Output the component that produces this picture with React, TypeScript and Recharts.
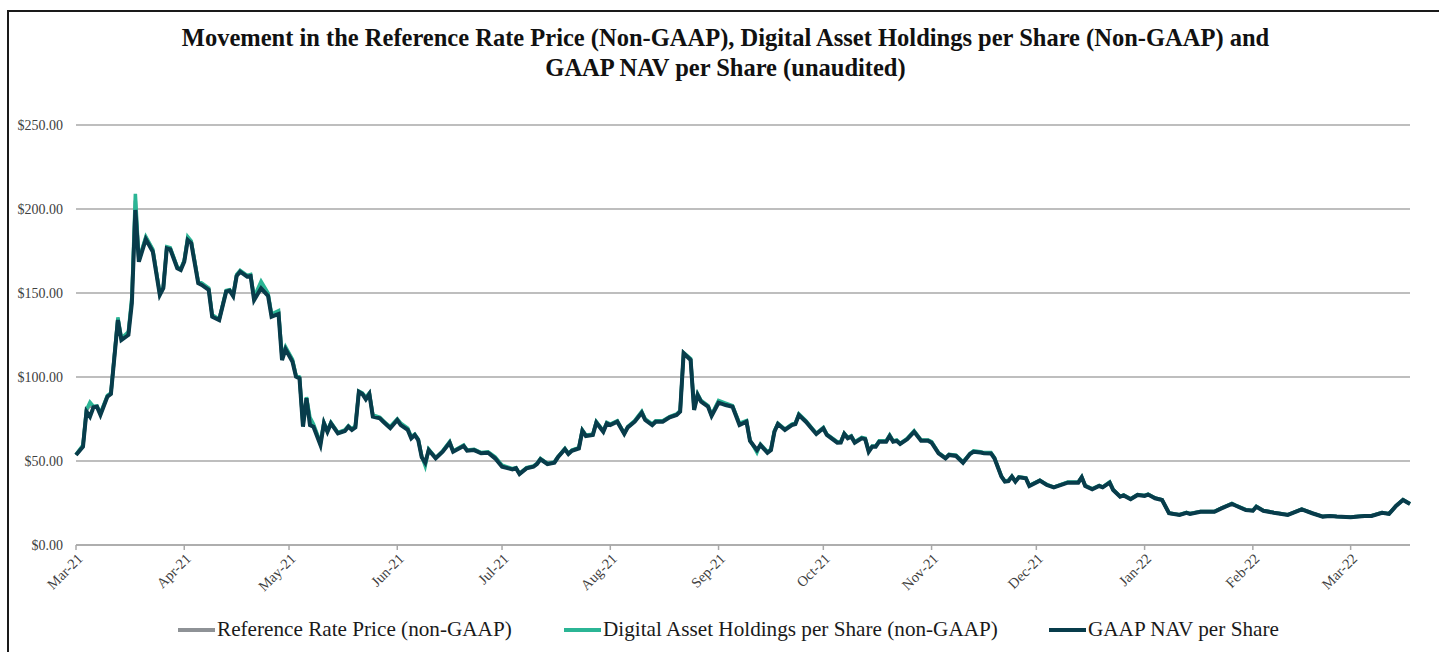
import { LineChart, Line, XAxis, YAxis, CartesianGrid } from "recharts";

const dates = [
  "2021-03-01", "2021-03-03", "2021-03-04", "2021-03-05", "2021-03-06", "2021-03-07", "2021-03-08", "2021-03-10", "2021-03-11", "2021-03-13",
  "2021-03-14", "2021-03-16", "2021-03-17", "2021-03-18", "2021-03-19", "2021-03-21", "2021-03-23", "2021-03-25", "2021-03-26", "2021-03-27",
  "2021-03-28", "2021-03-30", "2021-03-31", "2021-04-01", "2021-04-02", "2021-04-03", "2021-04-05", "2021-04-06", "2021-04-08", "2021-04-09",
  "2021-04-11", "2021-04-13", "2021-04-14", "2021-04-15", "2021-04-16", "2021-04-17", "2021-04-19", "2021-04-20", "2021-04-21", "2021-04-23",
  "2021-04-25", "2021-04-26", "2021-04-28", "2021-04-29", "2021-04-30", "2021-05-02", "2021-05-03", "2021-05-04", "2021-05-05", "2021-05-06",
  "2021-05-07", "2021-05-08", "2021-05-10", "2021-05-11", "2021-05-12", "2021-05-13", "2021-05-15", "2021-05-17", "2021-05-18", "2021-05-19",
  "2021-05-20", "2021-05-21", "2021-05-22", "2021-05-23", "2021-05-24", "2021-05-25", "2021-05-27", "2021-05-28", "2021-05-29", "2021-05-30",
  "2021-06-01", "2021-06-02", "2021-06-04", "2021-06-05", "2021-06-06", "2021-06-07", "2021-06-08", "2021-06-09", "2021-06-10", "2021-06-12",
  "2021-06-14", "2021-06-16", "2021-06-17", "2021-06-20", "2021-06-21", "2021-06-23", "2021-06-25", "2021-06-27", "2021-06-29", "2021-07-01",
  "2021-07-04", "2021-07-05", "2021-07-06", "2021-07-08", "2021-07-10", "2021-07-11", "2021-07-12", "2021-07-14", "2021-07-16", "2021-07-17",
  "2021-07-19", "2021-07-20", "2021-07-21", "2021-07-23", "2021-07-24", "2021-07-25", "2021-07-27", "2021-07-28", "2021-07-30", "2021-07-31",
  "2021-08-01", "2021-08-03", "2021-08-05", "2021-08-06", "2021-08-08", "2021-08-10", "2021-08-11", "2021-08-13", "2021-08-14", "2021-08-16",
  "2021-08-18", "2021-08-20", "2021-08-21", "2021-08-22", "2021-08-24", "2021-08-25", "2021-08-26", "2021-08-27", "2021-08-29", "2021-08-30",
  "2021-09-01", "2021-09-03", "2021-09-05", "2021-09-07", "2021-09-09", "2021-09-10", "2021-09-12", "2021-09-13", "2021-09-15", "2021-09-16",
  "2021-09-17", "2021-09-18", "2021-09-20", "2021-09-22", "2021-09-23", "2021-09-24", "2021-09-26", "2021-09-28", "2021-09-29", "2021-10-01",
  "2021-10-02", "2021-10-05", "2021-10-06", "2021-10-07", "2021-10-08", "2021-10-09", "2021-10-10", "2021-10-12", "2021-10-13", "2021-10-14",
  "2021-10-15", "2021-10-16", "2021-10-17", "2021-10-19", "2021-10-20", "2021-10-21", "2021-10-22", "2021-10-23", "2021-10-25", "2021-10-27",
  "2021-10-29", "2021-10-31", "2021-11-01", "2021-11-03", "2021-11-05", "2021-11-06", "2021-11-08", "2021-11-10", "2021-11-12", "2021-11-13",
  "2021-11-15", "2021-11-16", "2021-11-18", "2021-11-19", "2021-11-21", "2021-11-22", "2021-11-23", "2021-11-24", "2021-11-25", "2021-11-26",
  "2021-11-28", "2021-11-29", "2021-12-02", "2021-12-04", "2021-12-06", "2021-12-10", "2021-12-13", "2021-12-14", "2021-12-15", "2021-12-17",
  "2021-12-19", "2021-12-20", "2021-12-22", "2021-12-23", "2021-12-25", "2021-12-26", "2021-12-28", "2021-12-30", "2022-01-01", "2022-01-02",
  "2022-01-04", "2022-01-06", "2022-01-08", "2022-01-11", "2022-01-13", "2022-01-14", "2022-01-17", "2022-01-21", "2022-01-23", "2022-01-26",
  "2022-01-27", "2022-01-30", "2022-02-01", "2022-02-02", "2022-02-04", "2022-02-07", "2022-02-11", "2022-02-15", "2022-02-18", "2022-02-21",
  "2022-02-23", "2022-02-25", "2022-03-01", "2022-03-05", "2022-03-07", "2022-03-10", "2022-03-12", "2022-03-14", "2022-03-16", "2022-03-18",
];

const referenceRate = [
  53.7, 59, 80, 83.5, 82.3, 82.6, 78, 88.8, 90.3, 134.8,
  122.5, 126, 146, 205, 169.5, 183, 175.5, 149.5, 153.2, 177,
  176.5, 165.2, 164.2, 169.2, 182.5, 180.5, 156.5, 155.5, 152.5, 136.5,
  134.2, 151.2, 151.8, 148.6, 160.6, 163.2, 160.2, 160.6, 146.8, 155,
  149, 136.8, 138.5, 111, 117.2, 109.8, 100.6, 99.6, 71.2, 87.6,
  74, 71.2, 60.2, 72.7, 67.7, 72.7, 66.8, 68.2, 70.7, 68.8,
  70.5, 91.4, 90.2, 87.4, 90.2, 77, 75.7, 73.7, 71.7, 70,
  74.7, 72, 69, 64, 65.8, 62.8, 52.6, 48, 56.8, 51.8,
  55.8, 61.2, 55.8, 59.2, 56.3, 56.8, 54.8, 55.2, 52, 47,
  45.2, 45.8, 42.4, 45.8, 46.8, 48.4, 51.2, 48.4, 49.2, 52.4,
  57.2, 54.4, 56.3, 57.8, 68.2, 65.2, 65.8, 73.2, 67.7, 72.7,
  71.7, 73.7, 66.3, 70.2, 73.7, 79.1, 74.7, 71.7, 73.7, 73.7,
  76.2, 77.7, 79.7, 114.3, 110.5, 80.7, 89.6, 85.6, 82.6, 77.1,
  85.3, 83.9, 82.6, 72, 73.7, 62.3, 56, 59.8, 55.2, 56.8,
  67.7, 72.3, 68.8, 71.7, 72.3, 77.7, 73.7, 68.8, 66.3, 69.8,
  65.8, 61.2, 61.3, 66.3, 63.8, 64.8, 61.2, 63.8, 63.2, 55.8,
  58.8, 58.8, 61.8, 61.8, 65.2, 61.8, 62.3, 60.3, 63.2, 67.7,
  62.3, 62.3, 61.2, 54.8, 51.8, 53.8, 53.3, 49.3, 54.4, 55.8,
  55.3, 54.8, 54.8, 51.8, 40.9, 37.9, 38.3, 40.9, 37.9, 40.4,
  39.9, 35.3, 38.4, 35.9, 34.4, 37.3, 37.3, 40.4, 35.3, 33.4,
  35.3, 34.4, 37.3, 32.9, 28.9, 29.6, 27.4, 29.9, 29.4, 30.2,
  27.9, 26.9, 19, 18, 19.3, 18.6, 19.9, 19.9, 21.9, 24.6,
  23.6, 20.9, 20.5, 22.9, 20.5, 19.3, 18, 21.3, 19, 17,
  17.4, 17, 16.6, 17.4, 17.4, 19.3, 18.6, 23.3, 26.9, 24.5,
];

const digitalAssetHoldings = [
  53.8, 59.5, 80.5, 85, 82.5, 82.8, 78.5, 89, 90.5, 135.5,
  123, 127, 148, 209, 170, 183.5, 176, 150, 153.5, 177.5,
  177, 165.5, 164.5, 169.5, 183.5, 181, 157, 156, 153, 137,
  134.5, 151.5, 152, 149, 161, 163.5, 160.5, 161, 147.5, 157,
  150, 137.5, 139.5, 112, 118, 110.5, 101, 100, 72, 88,
  76, 72, 61, 73, 68, 73, 67, 68.5, 71, 69,
  71, 91.5, 90.5, 88, 90.5, 77.5, 76, 74, 72, 70.5,
  75, 72.5, 69.5, 64.5, 66, 63, 53, 47, 57, 52,
  56, 61.5, 56, 59.5, 56.5, 57, 55, 55.5, 52.5, 47.5,
  45.5, 46, 42.5, 46, 47, 48.5, 51.5, 48.5, 49.5, 52.5,
  57.5, 54.5, 56.5, 58, 68.5, 65.5, 66, 73.5, 68, 73,
  72, 74, 66.5, 70.5, 74, 79.5, 75, 72, 74, 74,
  76.5, 78, 80, 114.5, 111, 81, 90, 86, 83, 77.5,
  86, 84.5, 83, 72.5, 74, 62.5, 55, 60, 55.5, 57,
  68, 72.5, 69, 72, 72.5, 78, 74, 69, 66.5, 70,
  66, 61.5, 61.5, 66.5, 64, 65, 61.5, 64, 63.5, 56,
  59, 59, 62, 62, 65.5, 62, 62.5, 60.5, 63.5, 68,
  62.5, 62.5, 61.5, 55, 52, 54, 53.5, 49.5, 54.5, 56,
  55.5, 55, 55, 52, 41, 38, 38.5, 41, 38, 40.5,
  40, 35.5, 38.5, 36, 34.5, 37.5, 37.5, 40.5, 35.5, 33.5,
  35.5, 34.5, 37.5, 33, 29, 29.8, 27.5, 30, 29.5, 30.3,
  28, 27, 19, 18, 19.4, 18.7, 20, 20, 22, 24.7,
  23.7, 21, 20.6, 23, 20.6, 19.4, 18, 21.4, 19, 17,
  17.4, 17, 16.6, 17.4, 17.4, 19.3, 18.6, 23.4, 27, 24.6,
];

const gaapNav = [
  53.6, 58.5, 79.4, 76.4, 82, 82.3, 77.4, 88.3, 89.9, 133.9,
  122, 125, 144, 199.4, 168.6, 182, 174.6, 148.8, 152.8, 176.6,
  176, 164.7, 163.7, 168.6, 181.5, 179.6, 155.8, 154.8, 151.8, 135.9,
  133.9, 150.8, 151.4, 148.2, 160.1, 162.7, 159.7, 160.1, 145.8, 152.8,
  148.2, 135.9, 137.5, 110.1, 116.5, 109.1, 100.2, 99.2, 70.4, 87.3,
  71.4, 70.4, 59.5, 72.4, 67.4, 72.4, 66.5, 67.9, 70.4, 68.5,
  70, 91.2, 89.9, 86.7, 89.9, 76.4, 75.4, 73.4, 71.4, 69.5,
  74.4, 71.4, 68.5, 63.5, 65.5, 62.5, 52.2, 49, 56.5, 51.6,
  55.5, 60.9, 55.5, 58.9, 56.1, 56.5, 54.6, 54.9, 51.6, 46.6,
  45, 45.7, 42.3, 45.6, 46.6, 48.2, 51, 48.2, 49, 52.2,
  57, 54.2, 56.1, 57.5, 68, 64.9, 65.5, 72.8, 67.4, 72.4,
  71.4, 73.4, 66.1, 70, 73.4, 78.7, 74.4, 71.4, 73.4, 73.4,
  76, 77.4, 79.4, 114.1, 110.1, 80.4, 89.3, 85.3, 82.3, 76.8,
  84.7, 83.3, 82.3, 71.4, 73.4, 62, 56.5, 59.5, 54.9, 56.5,
  67.4, 72, 68.5, 71.4, 72, 77.4, 73.4, 68.5, 66.1, 69.5,
  65.5, 60.9, 61, 66.1, 63.5, 64.5, 60.9, 63.5, 63, 55.5,
  58.5, 58.5, 61.5, 61.5, 64.9, 61.5, 62, 60.1, 62.9, 67.4,
  62.1, 62.1, 60.9, 54.6, 51.6, 53.6, 53, 49, 54.2, 55.5,
  55, 54.6, 54.5, 51.6, 40.7, 37.7, 38, 40.7, 37.7, 40.3,
  39.7, 35.1, 38.3, 35.7, 34.3, 37.1, 37.1, 40.3, 35.1, 33.2,
  35.1, 34.3, 37.1, 32.7, 28.8, 29.5, 27.2, 29.8, 29.2, 30,
  27.8, 26.8, 18.9, 17.9, 19.2, 18.5, 19.8, 19.8, 21.8, 24.4,
  23.5, 20.8, 20.4, 22.8, 20.4, 19.2, 17.9, 21.2, 18.9, 16.9,
  17.3, 16.9, 16.5, 17.3, 17.3, 19.2, 18.5, 23.2, 26.8, 24.4,
];

const monthTicks = [
  "2021-03-01", "2021-04-01", "2021-05-01", "2021-06-01", "2021-07-01", "2021-08-01", "2021-09-01",
  "2021-10-01", "2021-11-01", "2021-12-01", "2022-01-01", "2022-02-01", "2022-03-01",
];
const yTicks = [0, 50, 100, 150, 200, 250];
const monthNames = ["Jan", "Feb", "Mar", "Apr", "May", "Jun", "Jul", "Aug", "Sep", "Oct", "Nov", "Dec"];

const seriesNames = [
  "Reference Rate Price (non-GAAP)",
  "Digital Asset Holdings per Share (non-GAAP)",
  "GAAP NAV per Share",
];
const colors = ["#8e9296", "#2bb595", "#083c4b"];

const toTs = (s: string) => {
  const [y, m, d] = s.split("-").map(Number);
  return Date.UTC(y, m - 1, d);
};

const data = dates.map((d, i) => ({
  t: toTs(d),
  ref: referenceRate[i],
  dah: digitalAssetHoldings[i],
  nav: gaapNav[i],
}));

const fmtMonth = (t: number) => {
  const d = new Date(t);
  return `${monthNames[d.getUTCMonth()]}-${String(d.getUTCFullYear()).slice(2)}`;
};

const FONT = '"Liberation Serif", "Times New Roman", serif';

function MonthTick(props: any) {
  const { x, y, payload } = props;
  return (
    <text
      transform={`translate(${x + 4},${y + 4}) rotate(-45)`}
      textAnchor="end"
      dy="0.35em"
      fontSize={14.5}
      fontFamily={FONT}
      fill="#404040"
    >
      {fmtMonth(payload.value)}
    </text>
  );
}

const legendItems = [
  { left: 178, label: seriesNames[0], color: colors[0] },
  { left: 564, label: seriesNames[1], color: colors[1] },
  { left: 1049, label: seriesNames[2], color: colors[2] },
];

export default function App() {
  return (
    <div style={{ position: "relative", width: 1439, height: 652, background: "#fff", overflow: "hidden" }}>
      <style>{"body{margin:0}"}</style>
      <div
        style={{
          position: "absolute",
          top: 10,
          left: 7,
          right: 0,
          bottom: 0,
          borderTop: "2px solid #1a1a1a",
          borderLeft: "2px solid #1a1a1a",
        }}
      />
      <div
        style={{
          position: "absolute",
          top: 23,
          left: 0,
          width: 1451,
          textAlign: "center",
          fontFamily: FONT,
          fontWeight: "bold",
          fontSize: 24.5,
          lineHeight: "30px",
          color: "#111",
        }}
      >
        Movement in the Reference Rate Price (Non-GAAP), Digital Asset Holdings per Share (Non-GAAP) and
        <br />
        GAAP NAV per Share (unaudited)
      </div>
      <div style={{ position: "absolute", top: 0, left: 0 }}>
        <LineChart width={1439} height={652} data={data} margin={{ top: 125, right: 29, left: 0, bottom: 0 }}>
          <CartesianGrid vertical={false} stroke="#a8a8a8" strokeWidth={1.5} />
          <XAxis
            dataKey="t"
            type="number"
            scale="time"
            domain={[toTs(dates[0]), toTs(dates[dates.length - 1])]}
            ticks={monthTicks.map(toTs)}
            tick={<MonthTick />}
            height={107}
            interval={0}
            axisLine={{ stroke: "#a8a8a8", strokeWidth: 1.5 }}
            tickLine={{ stroke: "#a8a8a8", strokeWidth: 1.5 }}
            tickSize={5}
          />
          <YAxis
            domain={[0, 250]}
            ticks={yTicks}
            width={76}
            axisLine={false}
            tickLine={false}
            tickSize={0}
            tickMargin={13}
            tickFormatter={(v: number) => `$${v.toFixed(2)}`}
            tick={{ fontSize: 14, fontFamily: FONT, fill: "#404040" }}
          />
          <Line dataKey="ref" name={seriesNames[0]} stroke={colors[0]} strokeWidth={3.5} dot={false} isAnimationActive={false} />
          <Line dataKey="dah" name={seriesNames[1]} stroke={colors[1]} strokeWidth={3.5} dot={false} isAnimationActive={false} />
          <Line dataKey="nav" name={seriesNames[2]} stroke={colors[2]} strokeWidth={4} dot={false} isAnimationActive={false} />
        </LineChart>
      </div>
      {legendItems.map((it) => (
        <div
          key={it.label}
          style={{
            position: "absolute",
            left: it.left,
            top: 617,
            display: "flex",
            alignItems: "center",
            fontFamily: FONT,
            fontSize: 21.2,
            color: "#1a1a1a",
            whiteSpace: "nowrap",
          }}
        >
          <span style={{ display: "inline-block", width: 37, height: 4, background: it.color, marginRight: 2 }} />
          {it.label}
        </div>
      ))}
    </div>
  );
}
